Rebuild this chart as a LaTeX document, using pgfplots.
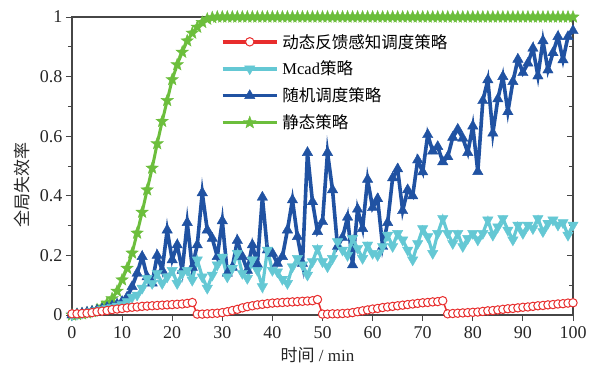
\documentclass[border=0pt]{standalone}
\usepackage{fontspec}
\setmainfont{Liberation Serif}
\newfontfamily\cjk{Noto Sans CJK SC}
\usepackage{pgfplots}
\usepackage{pgfplotstable}
\pgfplotsset{compat=1.18}
\definecolor{cred}{RGB}{232,45,45}
\definecolor{clb}{RGB}{100,200,212}
\definecolor{cdb}{RGB}{32,82,162}
\definecolor{cgr}{RGB}{108,190,60}
\definecolor{caxis}{RGB}{70,70,70}
\pgfdeclareplotmark{fstar}{%
  \pgfpathmoveto{\pgfpointpolar{90}{\pgfplotmarksize}}%
  \pgfpathlineto{\pgfpointpolar{126}{0.42\pgfplotmarksize}}%
  \pgfpathlineto{\pgfpointpolar{162}{\pgfplotmarksize}}%
  \pgfpathlineto{\pgfpointpolar{198}{0.42\pgfplotmarksize}}%
  \pgfpathlineto{\pgfpointpolar{234}{\pgfplotmarksize}}%
  \pgfpathlineto{\pgfpointpolar{270}{0.42\pgfplotmarksize}}%
  \pgfpathlineto{\pgfpointpolar{306}{\pgfplotmarksize}}%
  \pgfpathlineto{\pgfpointpolar{342}{0.42\pgfplotmarksize}}%
  \pgfpathlineto{\pgfpointpolar{18}{\pgfplotmarksize}}%
  \pgfpathlineto{\pgfpointpolar{54}{0.42\pgfplotmarksize}}%
  \pgfpathclose\pgfusepathqfillstroke}

\pgfplotstableread{
x y
0 0.004
1 0.004
2 0.005
3 0.006
4 0.008
5 0.011
6 0.013
7 0.015
8 0.018
9 0.020
10 0.022
11 0.024
12 0.026
13 0.027
14 0.029
15 0.030
16 0.031
17 0.032
18 0.033
19 0.034
20 0.035
21 0.036
22 0.037
23 0.039
24 0.042
25 0.003
26 0.003
27 0.004
28 0.005
29 0.006
30 0.008
31 0.011
32 0.015
33 0.019
34 0.024
35 0.028
36 0.031
37 0.034
38 0.036
39 0.038
40 0.040
41 0.041
42 0.042
43 0.043
44 0.044
45 0.045
46 0.046
47 0.047
48 0.048
49 0.052
50 0.003
51 0.003
52 0.004
53 0.004
54 0.005
55 0.006
56 0.008
57 0.011
58 0.014
59 0.017
60 0.020
61 0.022
62 0.025
63 0.027
64 0.029
65 0.031
66 0.033
67 0.035
68 0.037
69 0.039
70 0.041
71 0.042
72 0.044
73 0.045
74 0.048
75 0.004
76 0.005
77 0.006
78 0.007
79 0.008
80 0.009
81 0.010
82 0.012
83 0.014
84 0.015
85 0.017
86 0.019
87 0.021
88 0.022
89 0.024
90 0.026
91 0.027
92 0.029
93 0.031
94 0.032
95 0.034
96 0.035
97 0.037
98 0.038
99 0.040
100 0.041
}\dataRed

\pgfplotstableread{
x y
0 0
1 0.003
2 0.006
3 0.009
4 0.012
5 0.015
6 0.018
7 0.022
8 0.026
9 0.030
10 0.035
11 0.045
12 0.060
13 0.067
14 0.090
15 0.123
16 0.106
17 0.140
18 0.106
19 0.128
20 0.150
21 0.106
22 0.140
23 0.150
24 0.117
25 0.185
26 0.128
27 0.090
28 0.134
29 0.168
30 0.194
31 0.128
32 0.157
33 0.207
34 0.140
35 0.123
36 0.185
37 0.150
38 0.095
39 0.218
40 0.150
41 0.145
42 0.120
43 0.106
44 0.162
45 0.190
46 0.168
47 0.134
48 0.179
49 0.224
50 0.179
51 0.162
52 0.190
53 0.246
54 0.218
55 0.200
56 0.257
57 0.224
58 0.190
59 0.235
60 0.207
61 0.200
62 0.230
63 0.268
64 0.230
65 0.274
66 0.252
67 0.218
68 0.185
69 0.240
70 0.290
71 0.263
72 0.207
73 0.274
74 0.324
75 0.274
76 0.240
77 0.274
78 0.230
79 0.257
80 0.274
81 0.252
82 0.274
83 0.319
84 0.268
85 0.296
86 0.324
87 0.285
88 0.252
89 0.302
90 0.274
91 0.302
92 0.290
93 0.324
94 0.280
95 0.308
96 0.319
97 0.302
98 0.310
99 0.268
100 0.302
}\dataMcad

\pgfplotstableread{
x y
0 0
1 0.003
2 0.006
3 0.009
4 0.012
5 0.016
6 0.020
7 0.025
8 0.030
9 0.036
10 0.045
11 0.060
12 0.095
13 0.140
14 0.196
15 0.128
16 0.107
17 0.200
18 0.150
19 0.285
20 0.185
21 0.235
22 0.150
23 0.310
24 0.160
25 0.235
26 0.410
27 0.285
28 0.257
29 0.196
30 0.316
31 0.140
32 0.160
33 0.250
34 0.196
35 0.150
36 0.235
37 0.170
38 0.395
39 0.218
40 0.207
41 0.173
42 0.196
43 0.285
44 0.386
45 0.263
46 0.173
47 0.545
48 0.380
49 0.280
50 0.313
51 0.545
52 0.420
53 0.230
54 0.260
55 0.328
56 0.168
57 0.355
58 0.290
59 0.455
60 0.360
61 0.390
62 0.230
63 0.310
64 0.460
65 0.490
66 0.350
67 0.420
68 0.400
69 0.520
70 0.480
71 0.605
72 0.550
73 0.565
74 0.514
75 0.531
76 0.596
77 0.623
78 0.593
79 0.545
80 0.634
81 0.481
82 0.719
83 0.789
84 0.610
85 0.725
86 0.800
87 0.682
88 0.783
89 0.858
90 0.813
91 0.845
92 0.895
93 0.802
94 0.920
95 0.822
96 0.880
97 0.934
98 0.856
99 0.934
100 0.954
}\dataRand

\pgfplotstableread{
x y
0 0
1 0.002
2 0.004
3 0.007
4 0.011
5 0.018
6 0.027
7 0.040
8 0.055
9 0.080
10 0.118
11 0.157
12 0.208
13 0.275
14 0.345
15 0.420
16 0.493
17 0.575
18 0.650
19 0.720
20 0.790
21 0.840
22 0.882
23 0.920
24 0.946
25 0.966
26 0.982
27 0.993
28 0.998
29 1
30 1
31 1
32 1
33 1
34 1
35 1
36 1
37 1
38 1
39 1
40 1
41 1
42 1
43 1
44 1
45 1
46 1
47 1
48 1
49 1
50 1
51 1
52 1
53 1
54 1
55 1
56 1
57 1
58 1
59 1
60 1
61 1
62 1
63 1
64 1
65 1
66 1
67 1
68 1
69 1
70 1
71 1
72 1
73 1
74 1
75 1
76 1
77 1
78 1
79 1
80 1
81 1
82 1
83 1
84 1
85 1
86 1
87 1
88 1
89 1
90 1
91 1
92 1
93 1
94 1
95 1
96 1
97 1
98 1
99 1
100 1
}\dataStatic

\begin{document}
\begin{tikzpicture}
\useasboundingbox (0,0) rectangle (590pt,368pt);
% right-side inward ticks
\begin{axis}[
  at={(72pt,53pt)}, anchor=south west, scale only axis,
  width=501pt, height=298pt,
  xmin=0, xmax=100, ymin=0, ymax=1,
  xtick=\empty, ytick={0,0.2,0.4,0.6,0.8,1}, minor y tick num=1,
  ytick pos=right, yticklabels={}, tick align=inside,
  major tick length=6pt, minor tick length=4pt,
  axis line style={line width=1.2pt, caxis},
  every tick/.style={line width=1pt, caxis},
]
\end{axis}
\begin{axis}[
  at={(72pt,53pt)}, anchor=south west, scale only axis,
  width=501pt, height=298pt,
  xmin=0, xmax=100, ymin=0, ymax=1,
  xtick={0,10,20,30,40,50,60,70,80,90,100},
  ytick={0,0.2,0.4,0.6,0.8,1}, minor y tick num=1,
  xtick pos=bottom, ytick pos=left, tick align=outside,
  major tick length=6pt, minor tick length=4pt,
  axis line style={line width=1.2pt, caxis},
  every tick/.style={line width=1pt, caxis},
  /pgf/number format/assume math mode=true,
  tick label style={font=\fontsize{18}{18}\selectfont, text=black!85},
  xticklabel style={yshift=-2pt},
  clip=false,
  xlabel={{\cjk 时间} / min},
  ylabel={\cjk 全局失效率},
  label style={font=\fontsize{17}{17}\selectfont, text=black!85},
  xlabel style={at={(axis description cs:0.49,-0.134)}, anchor=center},
  ylabel style={at={(axis description cs:-0.1,0.436)}, anchor=center},
  reverse legend,
  legend cell align=left,
  legend style={draw=none, fill=none, at={(0.297,0.95)}, anchor=north west,
    font=\fontsize{16.5}{16.5}\selectfont, row sep=7.5pt, inner sep=0pt,
    nodes={inner xsep=4pt}},
  legend image code/.code={\draw[line width=3.5pt, mark repeat=2,mark phase=2] plot coordinates {(0pt,0pt)(27pt,0pt)(54pt,0pt)};},
]
\addplot[cgr, line width=3pt, mark=fstar, mark size=6.5pt, mark options={line width=0.4pt, fill=cgr}] table[x=x,y=y] {\dataStatic};
\addlegendentry{\cjk 静态策略}
\addplot[cdb, line width=3.6pt, mark=triangle*, mark size=6pt, mark options={line width=0.4pt, fill=cdb}] table[x=x,y=y] {\dataRand};
\addlegendentry{\cjk 随机调度策略}
\addplot[clb, line width=3.2pt, mark=triangle*, mark size=6pt, mark options={line width=0.4pt, fill=clb, rotate=180}] table[x=x,y=y] {\dataMcad};
\addlegendentry{Mcad{\cjk 策略}}
\addplot[cred, line width=1.5pt, mark=*, mark size=4.2pt, mark options={line width=1pt, fill=white}] table[x=x,y=y] {\dataRed};
\addlegendentry{\cjk 动态反馈感知调度策略}
\end{axis}
\end{tikzpicture}
\end{document}
